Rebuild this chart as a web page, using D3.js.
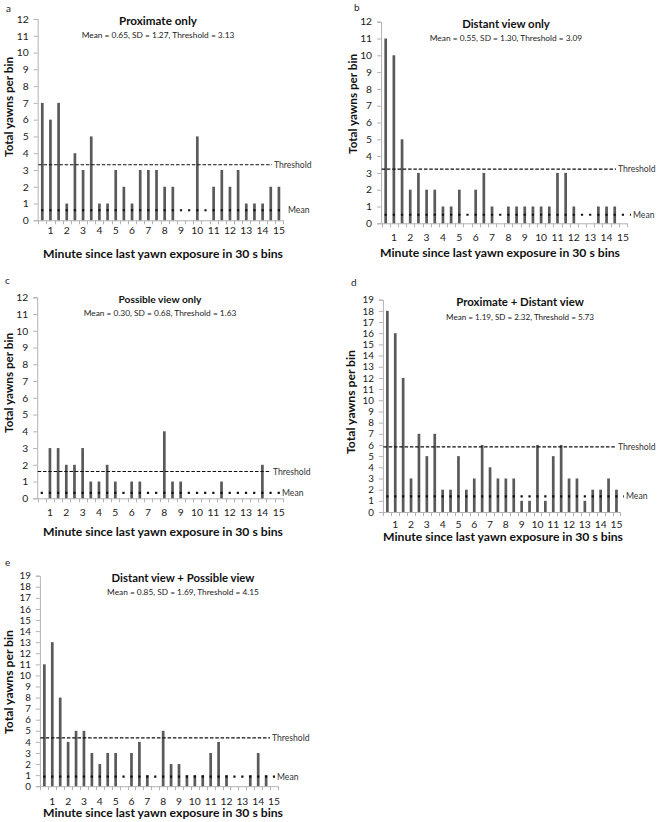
<!DOCTYPE html>
<html>
<head>
<meta charset="utf-8">
<script src="https://cdn.jsdelivr.net/npm/d3@7"></script>
<style>
  html, body { margin: 0; padding: 0; background: #ffffff; }
  svg { display: block; font-family: Lato, "Open Sans", sans-serif; }
</style>
</head>
<body>
<svg id="chart" width="658" height="822"></svg>
<script>
// ---------------- DATA ----------------
// 30-second bins (end of bin, in minutes)
const bins = [0.5, 1, 1.5, 2, 2.5, 3, 3.5, 4, 4.5, 5, 5.5, 6, 6.5, 7, 7.5, 8, 8.5, 9, 9.5, 10,
              10.5, 11, 11.5, 12, 12.5, 13, 13.5, 14, 14.5, 15];
const xTickLabels = [1, 2, 3, 4, 5, 6, 7, 8, 9, 10, 11, 12, 13, 14, 15];

const proximateOnly       = [7, 6, 7, 1, 4, 3, 5, 1, 1, 3, 2, 1, 3, 3, 3, 2, 2, 0, 0, 5, 0, 2, 3, 2, 3, 1, 1, 1, 2, 2];
const distantOnly         = [11, 10, 5, 2, 3, 2, 2, 1, 1, 2, 0, 2, 3, 1, 0, 1, 1, 1, 1, 1, 1, 3, 3, 1, 0, 0, 1, 1, 1, 0];
const possibleOnly        = [0, 3, 3, 2, 2, 3, 1, 1, 2, 1, 0, 1, 1, 0, 0, 4, 1, 1, 0, 0, 0, 0, 1, 0, 0, 0, 0, 2, 0, 0];
const proximatePlusDistant= [18, 16, 12, 3, 7, 5, 7, 2, 2, 5, 2, 3, 6, 4, 3, 3, 3, 1, 1, 6, 1, 5, 6, 3, 3, 1, 2, 2, 3, 2];
const distantPlusPossible = [11, 13, 8, 4, 5, 5, 3, 2, 3, 3, 0, 3, 4, 1, 0, 5, 2, 2, 1, 1, 1, 3, 4, 1, 0, 0, 1, 3, 1, 0];

const panelLetters = ["a", "b", "c", "d", "e"];
const panelTitles = ["Proximate only", "Distant view only", "Possible view only",
                     "Proximate + Distant view", "Distant view + Possible view"];
const panelSubtitles = ["Mean = 0.65, SD = 1.27, Threshold = 3.13",
                        "Mean = 0.55, SD = 1.30, Threshold = 3.09",
                        "Mean = 0.30, SD = 0.68, Threshold = 1.63",
                        "Mean = 1.19, SD = 2.32, Threshold = 5.73",
                        "Mean = 0.85, SD = 1.69, Threshold = 4.15"];
const panelSeries = [proximateOnly, distantOnly, possibleOnly, proximatePlusDistant, distantPlusPossible];
const yMaxValues = [12, 12, 12, 19, 19];
// reference lines as drawn in the figure
const thresholdLines = [3.31, 3.22, 1.6, 5.82, 4.36];
const meanLines = [0.6, 0.51, 0.32, 1.4, 0.86];

const yAxisTitle = "Total yawns per bin";
const xAxisTitle = "Minute since last yawn exposure in 30 s bins";
const thresholdLabel = "Threshold";
const meanLabel = "Mean";

// ---------------- LAYOUT ----------------
const layout = [
  {x0: 38.2, x1: 283, y0: 220.3, yTop: 19, tickY: 230.5, titleX: 158, titleY: 21, subY: 35,
   letter: [6, 8], ylab: [8.5, 107], xlab: [163, 254], thrEnd: 272, thrText: 274, meanText: 288, yfs: 9.5, ylabW: 100},
  {x0: 381.6, x1: 627, y0: 223.3, yTop: 21.7, tickY: 237, titleX: 506, titleY: 24, subY: 38,
   letter: [354, 7], ylab: [353, 104], xlab: [500, 253], thrEnd: 616, thrText: 618, meanText: 633, yfs: 9.5, ylabW: 100},
  {x0: 37.7, x1: 282.8, y0: 498.3, yTop: 297.3, tickY: 512, titleX: 160, titleY: 299, subY: 313,
   letter: [5, 280], ylab: [8.5, 383], xlab: [163, 532], thrEnd: 271, thrText: 273, meanText: 282, yfs: 9.5, ylabW: 100},
  {x0: 383.4, x1: 620.4, y0: 512, yTop: 299.7, tickY: 524.5, titleX: 520, titleY: 302, subY: 317,
   letter: [351, 282], ylab: [351, 402], xlab: [503, 536.5], thrEnd: 616, thrText: 618, meanText: 626, yfs: 9, ylabW: 104},
  {x0: 40.4, x1: 278, y0: 786.2, yTop: 575.7, tickY: 801, titleX: 183, titleY: 577.7, subY: 592,
   letter: [5, 562], ylab: [8.5, 682], xlab: [163, 813], thrEnd: 270, thrText: 272, meanText: 277, yfs: 9, ylabW: 104}
];
const titleWidths = [78, 87.7, 83, 127.7, 143];
const subWidths = [153, 152.7, 153, 148, 152];

const svg = d3.select("#chart");

function fitText(sel, target, baseSize) {
  sel.style("font-size", baseSize + "px");
  const w = sel.node().getComputedTextLength();
  if (w > 0) sel.style("font-size", (baseSize * target / w).toFixed(2) + "px");
  return sel;
}

panelSeries.forEach((values, p) => {
  const L = layout[p];
  const g = svg.append("g");

  const x = d3.scaleBand().domain(bins).range([L.x0, L.x1]).paddingInner(0).paddingOuter(0);
  const y = d3.scaleLinear().domain([0, yMaxValues[p]]).range([L.y0, L.yTop]);
  const bw = x.bandwidth();
  const barW = 2.7;

  // panel letter
  g.append("text").attr("x", L.letter[0]).attr("y", L.letter[1]).attr("dy", "0.35em")
    .style("font-size", "10px").attr("fill", "#222").text(panelLetters[p]);

  // y axis
  const yTicks = d3.range(0, yMaxValues[p] + 1);
  const yAxis = g.append("g").attr("transform", `translate(${L.x0 - 0.5},0)`)
    .call(d3.axisLeft(y).tickValues(yTicks).tickSize(4).tickPadding(5).tickFormat(d3.format("d")));
  yAxis.select(".domain").attr("stroke", "#b3b3b3");
  yAxis.selectAll(".tick line").attr("stroke", "#b3b3b3");
  yAxis.selectAll(".tick text").style("font-size", (L.yfs + 0.8) + "px").style("font-family", "Lato")
    .attr("fill", "#1a1a1a");

  // x axis line + boundary ticks
  g.append("line").attr("x1", L.x0).attr("x2", L.x1).attr("y1", L.y0 + 0.5).attr("y2", L.y0 + 0.5)
    .attr("stroke", "#b3b3b3");
  const bounds = bins.map(b => x(b)).concat([x(bins[bins.length - 1]) + bw]);
  g.selectAll(".xt").data(bounds).join("line")
    .attr("x1", d => Math.round(d) + 0.5).attr("x2", d => Math.round(d) + 0.5)
    .attr("y1", L.y0).attr("y2", L.y0 + 4).attr("stroke", "#b3b3b3");
  g.selectAll(".xl").data(xTickLabels).join("text")
    .attr("x", d => x(d) + bw / 2).attr("y", L.tickY).attr("dy", "0.35em")
    .attr("text-anchor", "middle").style("font-size", "10.3px").attr("fill", "#1a1a1a")
    .text(d => d);

  // bars
  g.selectAll(".bar").data(values.map((v, i) => ({bin: bins[i], v})).filter(d => d.v > 0)).join("rect")
    .attr("x", d => x(d.bin) + bw / 2 - barW / 2)
    .attr("y", d => y(d.v))
    .attr("width", barW)
    .attr("height", d => y(0) - y(d.v))
    .attr("fill", "#5a5a5a");

  // threshold line
  const ty = y(thresholdLines[p]);
  g.append("line").attr("x1", L.x0).attr("x2", L.thrEnd).attr("y1", ty).attr("y2", ty)
    .attr("stroke", "#111").attr("stroke-width", 1.2).attr("stroke-dasharray", "3.5,1.8");
  g.append("text").attr("x", L.thrText).attr("y", ty).attr("dy", "0.35em")
    .style("font-size", "8.6px").attr("fill", "#333").text(thresholdLabel);

  // mean line (round dots at each bin)
  const my = y(meanLines[p]);
  g.append("line").attr("x1", L.x0).attr("x2", L.meanText - 2).attr("y1", my).attr("y2", my)
    .attr("stroke", "#111").attr("stroke-width", 2.2)
    .attr("stroke-dasharray", `2.2,${(bw - 2.2).toFixed(3)}`)
    .attr("stroke-dashoffset", (bw / 2 + 1.1).toFixed(3));
  g.append("text").attr("x", L.meanText).attr("y", my).attr("dy", "0.35em")
    .style("font-size", "8.6px").attr("fill", "#333").text(meanLabel);

  // titles
  const t = g.append("text").attr("x", L.titleX).attr("y", L.titleY).attr("dy", "0.35em")
    .attr("text-anchor", "middle").style("font-weight", "bold").attr("fill", "#111").text(panelTitles[p]);
  fitText(t, titleWidths[p], 12);
  const s = g.append("text").attr("x", L.titleX).attr("y", L.subY).attr("dy", "0.35em")
    .attr("text-anchor", "middle").attr("fill", "#222").text(panelSubtitles[p]);
  fitText(s, subWidths[p], 8.5);

  // axis titles
  const yl = g.append("text").attr("transform", `translate(${L.ylab[0]},${L.ylab[1]}) rotate(-90)`)
    .attr("dy", "0.35em").attr("text-anchor", "middle").style("font-weight", "bold").attr("fill", "#111")
    .text(yAxisTitle);
  fitText(yl, L.ylabW, 12);
  const xl = g.append("text").attr("x", L.xlab[0]).attr("y", L.xlab[1]).attr("dy", "0.35em")
    .attr("text-anchor", "middle").style("font-weight", "bold").attr("fill", "#111").text(xAxisTitle);
  fitText(xl, 240, 12);
});
</script>
</body>
</html>
